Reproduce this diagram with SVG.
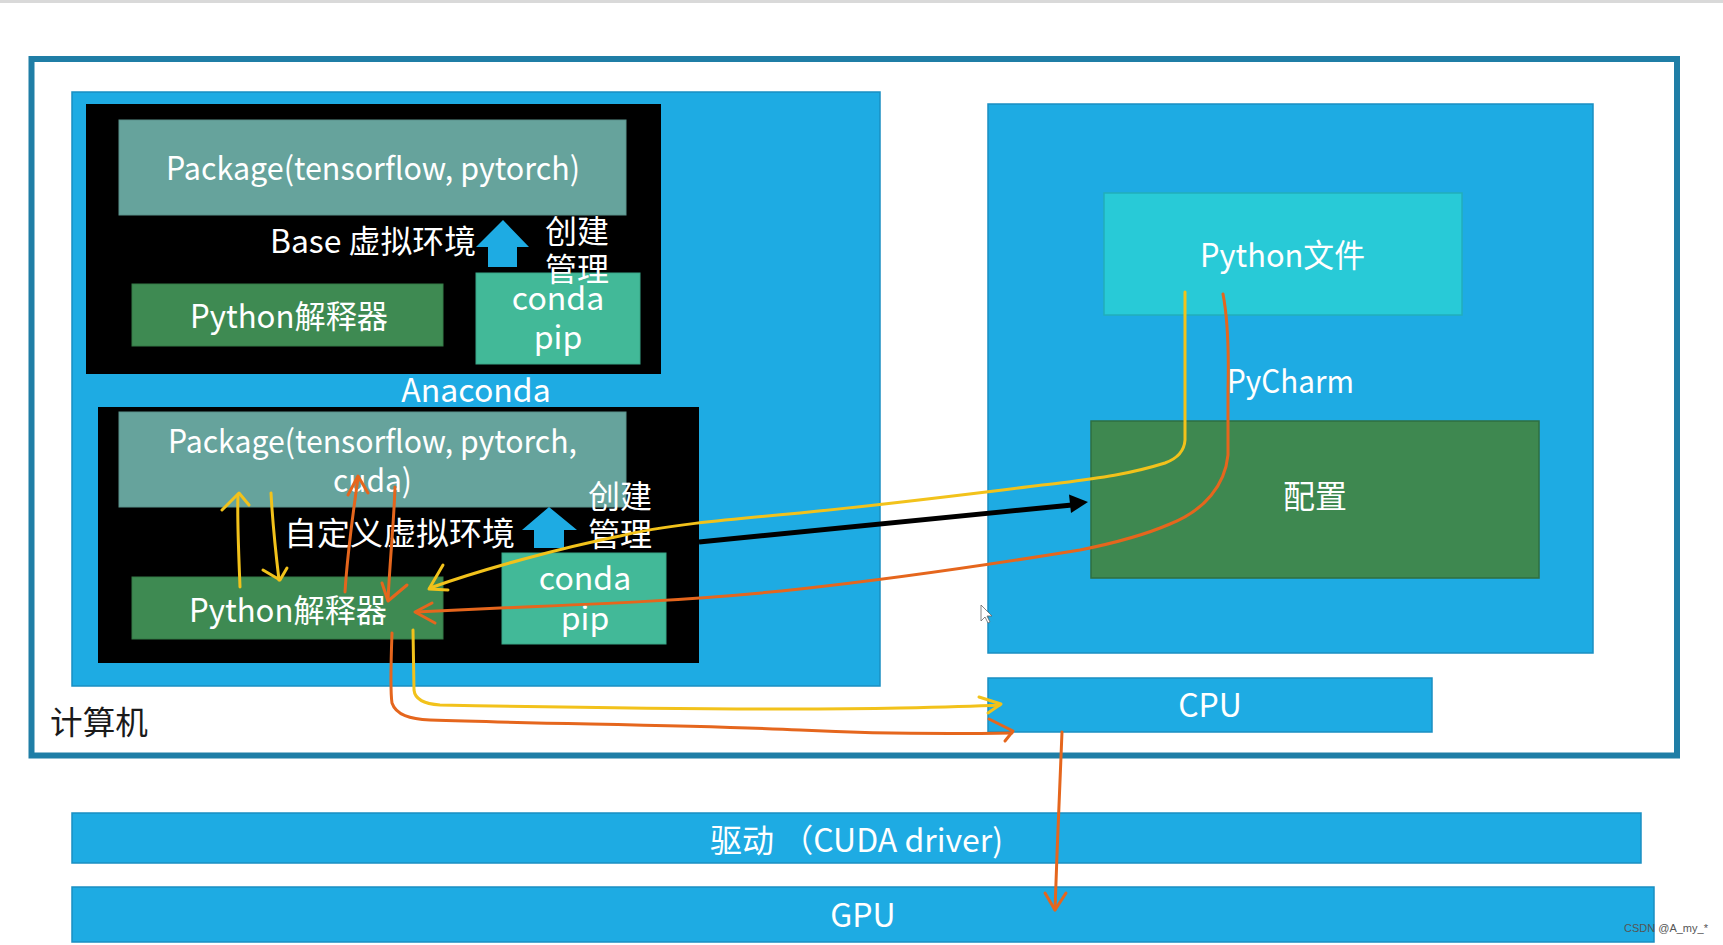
<svg xmlns="http://www.w3.org/2000/svg" width="1723" height="945" viewBox="0 0 1723 945">
<style>
.t{font-family:"Noto Sans CJK SC","Noto Sans",sans-serif;fill:#ffffff;font-size:32px}
.tk{font-family:"Noto Sans CJK SC","Noto Sans",sans-serif;fill:#1a1a1a;font-size:32px}
.blue{fill:#1eabe3;stroke:#1a8fc2;stroke-width:1.5}
.blk{fill:#000000}
.pkg{fill:#66a39c;stroke:#5a928b;stroke-width:1}
.py{fill:#3e8a52;stroke:#357a46;stroke-width:1}
.cd{fill:#42b998;stroke:#38a687;stroke-width:1}
.y{fill:none;stroke:#f2c21b;stroke-width:3;stroke-linecap:round;stroke-linejoin:round}
.o{fill:none;stroke:#e5661d;stroke-width:3;stroke-linecap:round;stroke-linejoin:round}
</style>
<rect x="0" y="0" width="1723" height="945" fill="#ffffff"/>
<rect x="0" y="0" width="1723" height="3" fill="#d9d9d9"/>

<g id="computer">
<rect x="31.5" y="59" width="1645.5" height="696.5" fill="#ffffff" stroke="#1f7ea6" stroke-width="6"/>
<text class="tk" x="50" y="734" textLength="98" lengthAdjust="spacingAndGlyphs">计算机</text>
</g>

<g id="anaconda">
<rect class="blue" x="72" y="92" width="808" height="594"/>
<text class="t" x="476" y="402" text-anchor="middle" font-size="31">Anaconda</text>
</g>

<g id="base-env">
<rect class="blk" x="86" y="104" width="575" height="270"/>
<rect class="pkg" x="119" y="120" width="507" height="95"/>
<text class="t" x="166" y="180" textLength="414" lengthAdjust="spacingAndGlyphs">Package(tensorflow, pytorch)</text>
<text class="t" x="270" y="253" textLength="206" lengthAdjust="spacingAndGlyphs">Base 虚拟环境</text>
<polygon points="503,220 529,247 517,247 517,267 488,267 488,247 476,247" fill="#1eabe3"/>
<rect class="py" x="132" y="284" width="311" height="62"/>
<text class="t" x="190" y="328" textLength="198" lengthAdjust="spacingAndGlyphs">Python解释器</text>
<rect class="cd" x="476" y="273" width="164" height="91"/>
<text class="t" x="545" y="243">创建</text>
<text class="t" x="545" y="281">管理</text>
<text class="t" x="558" y="310" text-anchor="middle">conda</text>
<text class="t" x="558" y="349" text-anchor="middle">pip</text>
</g>

<g id="custom-env">
<rect class="blk" x="98" y="407" width="601" height="256"/>
<rect class="pkg" x="119" y="412" width="507" height="95"/>
<text class="t" x="168" y="453" textLength="409" lengthAdjust="spacingAndGlyphs">Package(tensorflow, pytorch,</text>
<text class="t" x="333" y="492" textLength="79" lengthAdjust="spacingAndGlyphs">cuda)</text>
<text class="t" x="284" y="545" textLength="231" lengthAdjust="spacingAndGlyphs">自定义虚拟环境</text>
<polygon points="549,507 577,530 564,530 564,548 534,548 534,530 522,530" fill="#1eabe3"/>
<rect class="py" x="132" y="577" width="311" height="62"/>
<text class="t" x="189" y="622" textLength="198" lengthAdjust="spacingAndGlyphs">Python解释器</text>
<rect class="cd" x="502" y="553" width="164" height="91"/>
<text class="t" x="588" y="508">创建</text>
<text class="t" x="588" y="546">管理</text>
<text class="t" x="585" y="590" text-anchor="middle">conda</text>
<text class="t" x="585" y="630" text-anchor="middle">pip</text>
</g>

<g id="pycharm">
<rect class="blue" x="988" y="104" width="605" height="549"/>
<rect x="1104" y="193" width="358" height="122" fill="#28cad7" stroke="#22aebb" stroke-width="1.5"/>
<text class="t" x="1200" y="267" textLength="165" lengthAdjust="spacingAndGlyphs">Python文件</text>
<text class="t" x="1227" y="393" textLength="127" lengthAdjust="spacingAndGlyphs">PyCharm</text>
<rect x="1091" y="421" width="448" height="157" fill="#3e8850" stroke="#2f6f40" stroke-width="1.5"/>
<text class="t" x="1283" y="508">配置</text>
</g>

<g id="cpu">
<rect class="blue" x="988" y="678" width="444" height="54"/>
<text class="t" x="1210" y="717" text-anchor="middle">CPU</text>
</g>

<g id="driver">
<rect class="blue" x="72" y="813" width="1569" height="50"/>
<text class="t" x="710" y="852" font-size="30" textLength="293" lengthAdjust="spacingAndGlyphs">驱动 （CUDA driver)</text>
</g>

<g id="gpu">
<rect class="blue" x="72" y="887" width="1582" height="55"/>
<text class="t" x="863" y="927" font-size="30" text-anchor="middle">GPU</text>
</g>

<g id="connectors">
<line x1="699" y1="542" x2="1072" y2="505" stroke="#000000" stroke-width="5"/>
<polygon points="1088,502 1069,494.5 1071,513" fill="#000000"/>
<path class="y" d="M240,587 C239,560 237,520 238,495"/>
<path class="y" d="M222,510 L239,493 L249,505"/>
<path class="y" d="M271,493 C273,530 276,555 279,580"/>
<path class="y" d="M263,570 L280,580 L287,568"/>
<path class="o" d="M345,592 C347,560 352,520 358,478"/>
<path class="o" d="M348,495 L358,476 L368,493"/>
<path class="o" d="M395,487 C394,520 390,560 388,600"/>
<path class="o" d="M382,583 L388,601 L407,585"/>
<path class="y" d="M1185,292 L1185,440 Q1184,456 1165,463 C1130,474 1100,478 1060,483 C1000,490 900,503 800,513 C720,520 660,526 620,536 C560,548 480,570 430,588"/>
<path class="y" d="M443,565 L429,589 L448,590"/>
<path class="o" d="M1223,294 C1228,320 1229,350 1228,390 L1228,455 C1225,485 1205,510 1170,524 C1140,537 1110,544 1080,550 C1000,563 900,578 800,589 C700,600 600,604 500,608 L416,612"/>
<path class="o" d="M432,603 L415,612 L435,623"/>
<path class="y" d="M413,630 L414,690 C415,700 425,704 440,705 C600,708 800,710 900,708 C950,707 980,706 1000,705"/>
<path class="y" d="M979,697 L1001,704 L988,713"/>
<path class="o" d="M392,633 C391,660 390,690 392,703 C396,715 410,719 430,720 C550,724 700,725 800,730 C880,734 950,734 1012,733"/>
<path class="o" d="M989,719 L1013,731 L1005,741"/>
<path class="o" d="M1062,732 C1060,780 1057,850 1055,910"/>
<path class="o" d="M1045,893 L1055,910 L1066,893"/>
</g>

<path d="M981,605 L981,621 L985,617 L988,623 L990,622 L987,616 L992,616 Z" fill="#ffffff" stroke="#666666" stroke-width="0.8"/>
<text x="1624" y="932" font-family="Liberation Sans, sans-serif" font-size="11" fill="#555555">CSDN @A_my_*</text>
</svg>
